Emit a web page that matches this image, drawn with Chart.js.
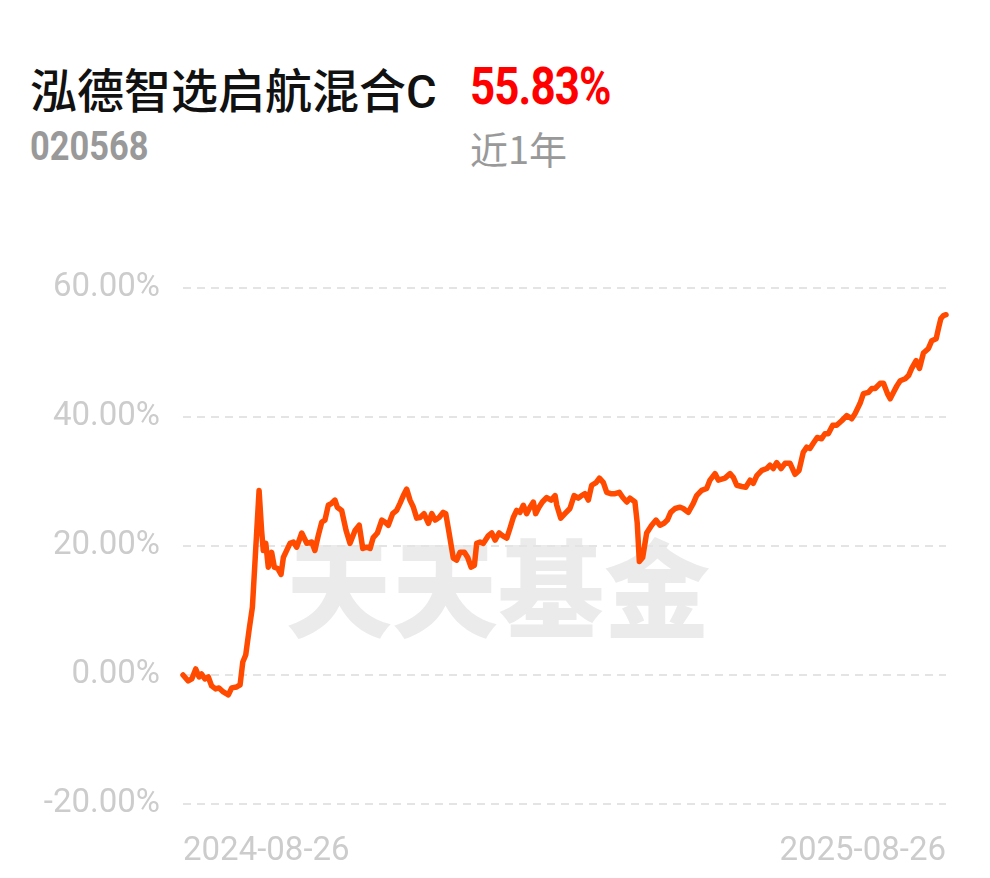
<!DOCTYPE html>
<html>
<head>
<meta charset="utf-8">
<script src="https://cdn.jsdelivr.net/npm/chart.js"></script>
<style>
  body { margin: 0; background: #fff; width: 990px; height: 878px; overflow: hidden; position: relative; font-family: Roboto, "Noto Sans CJK SC", sans-serif; }
  .title { position: absolute; left: 30px; top: 53px; font-family: "Noto Sans CJK SC", sans-serif; font-size: 47px; font-weight: 500; color: #111; white-space: nowrap; }
  .title .c { font-family: Roboto, sans-serif; }
  .pct { position: absolute; left: 470px; top: 57px; font-family: Roboto, sans-serif; font-size: 51px; font-weight: 700; color: #f00; transform: scaleX(0.86); transform-origin: left top; letter-spacing: -1px; }
  .code { position: absolute; left: 30px; top: 123px; font-family: Roboto, sans-serif; font-size: 40px; font-weight: 700; color: #999; transform: scaleX(0.86); transform-origin: left top; }
  .period { position: absolute; left: 470px; top: 120px; font-family: "Noto Sans CJK SC", sans-serif; font-size: 38px; color: #999; }
  .wm { position: absolute; left: 286px; top: 506px; font-family: "Noto Sans CJK SC", sans-serif; font-size: 106px; font-weight: 900; color: #ebebeb; white-space: nowrap; }
  #box { position: absolute; left: 0; top: 245px; width: 990px; height: 633px; }
</style>
</head>
<body>
<div class="wm">天天基金</div>
<div class="title">泓德智选启航混合<span class="c">C</span></div>
<div class="pct">55.83%</div>
<div class="code">020568</div>
<div class="period">近1年</div>
<div id="box"><canvas id="navChart"></canvas></div>
<script>
// days after 2024-08-26 and the cumulative return (%)
const days = [0, 2.5, 4.2, 6.1, 7.7, 8.9, 10.5, 12.1, 13.7, 15.6, 17.2, 19.3, 21.7, 23.3, 25.7, 27.3,
  28.6, 30.0, 31.6, 33.2, 34.4, 35.3, 36.4, 37.6, 38.4, 39.6, 40.8, 42.4, 43.7, 45.3, 46.9, 48.0,
  49.6, 51.2, 52.8, 54.4, 56.8, 59.2, 61.6, 63.1, 64.7, 66.4, 67.9, 69.5, 71.1, 72.7, 73.8, 75.9,
  78.0, 79.9, 82.3, 84.3, 86.0, 87.9, 89.5, 91.0, 93.0, 95.1, 96.6, 98.2, 100.3, 102.2, 103.8, 105.4,
  107.0, 108.6, 110.2, 111.8, 113.4, 115.3, 117.4, 119.0, 120.6, 122.5, 124.5, 125.7, 127.3, 129.3, 130.9, 132.5,
  134.6, 136.2, 137.8, 139.4, 140.5, 142.1, 143.7, 146.1, 147.7, 149.3, 151.2, 152.8, 154.9, 156.4, 158.0, 159.6,
  161.2, 162.8, 164.4, 166.0, 167.6, 168.7, 170.3, 171.9, 174.0, 176.1, 178.0, 178.8, 180.7, 182.7, 185.1, 187.1,
  189.1, 190.7, 192.3, 193.9, 195.5, 197.6, 199.2, 201.1, 202.7, 204.6, 206.7, 208.7, 210.4, 212.3, 213.8, 216.2,
  217.3, 218.3, 219.9, 221.8, 224.2, 226.3, 228.2, 230.1, 231.7, 233.3, 235.4, 237.8, 239.3, 241.7, 244.1, 245.7,
  248.1, 250.5, 252.1, 254.5, 256.1, 259.3, 261.7, 263.3, 264.9, 267.3, 269.2, 271.3, 272.8, 274.5, 276.9, 279.3,
  280.8, 282.4, 284.0, 286.1, 288.0, 290.4, 292.8, 294.7, 296.7, 298.4, 299.9, 301.5, 303.4, 305.5, 307.1, 308.7,
  310.8, 312.7, 315.1, 317.5, 319.9, 321.5, 323.9, 325.5, 327.9, 329.5, 331.1, 333.5, 335.1, 337.0, 338.3, 339.9,
  341.5, 343.1, 345.5, 347.1, 348.6, 350.7, 352.3, 354.2, 356.6, 358.2, 360.3, 361.4, 362.5, 363.8, 365];
const returns = [0.00, -0.93, -0.62, 0.93, -0.31, 0.15, -0.62, -0.31, -1.70, -2.16, -2.01, -2.63, -3.09, -2.01, -1.86, -1.55,
  2.01, 3.09, 6.96, 10.5, 17.3, 22.4, 28.6, 22.4, 19.3, 20.4, 16.7, 19.0, 16.7, 16.5, 15.6, 18.2,
  19.3, 20.4, 20.6, 19.8, 22.0, 20.4, 20.6, 19.3, 21.6, 23.7, 24.0, 26.3, 26.6, 27.1, 26.0, 25.5,
  22.4, 20.4, 22.4, 23.2, 19.6, 19.8, 19.6, 21.3, 22.0, 24.0, 23.7, 23.2, 25.0, 25.5, 26.6, 27.8,
  28.8, 27.1, 26.0, 24.3, 24.4, 25.0, 23.5, 25.0, 24.0, 24.4, 25.2, 25.0, 22.0, 18.1, 17.8, 19.0,
  19.0, 18.2, 16.7, 17.0, 20.4, 20.6, 20.4, 21.6, 22.0, 20.9, 22.0, 21.6, 21.2, 22.7, 24.4, 25.5,
  25.2, 26.3, 25.0, 26.0, 26.8, 25.0, 26.0, 26.8, 27.5, 27.1, 27.8, 26.3, 24.3, 25.0, 25.8, 27.8,
  27.4, 27.8, 28.1, 27.1, 29.4, 29.8, 30.5, 29.8, 28.3, 28.1, 28.1, 28.3, 27.5, 26.8, 27.4, 26.8,
  23.5, 17.6, 18.2, 22.0, 23.2, 24.0, 23.2, 23.5, 24.0, 25.2, 25.8, 26.0, 25.8, 25.2, 26.6, 27.8,
  28.6, 28.9, 30.2, 31.2, 30.2, 30.5, 31.2, 30.6, 29.4, 29.2, 29.1, 30.2, 29.7, 30.9, 31.7, 32.0,
  32.5, 32.0, 32.9, 32.0, 32.8, 32.8, 31.1, 31.7, 34.5, 35.3, 35.1, 35.9, 36.8, 36.6, 37.4, 37.4,
  38.7, 38.7, 39.4, 40.2, 39.7, 40.5, 42.1, 43.6, 43.8, 44.4, 44.4, 45.2, 45.2, 43.6, 42.8, 43.8,
  44.8, 45.6, 45.9, 46.4, 47.5, 48.7, 47.5, 49.9, 50.6, 51.8, 52.1, 53.7, 55.2, 55.7, 55.83];
const xTickLabels = ['2024-08-26', '2025-08-26'];
const yTicks = [-20, 0, 20, 40, 60];

const points = days.map((d, i) => ({ x: d, y: returns[i] }));

const ctx = document.getElementById('navChart').getContext('2d');
window.navChart = new Chart(ctx, {
  type: 'line',
  data: {
    datasets: [{
      data: points,
      borderColor: '#ff4a00',
      borderWidth: 5.5,
      pointRadius: 0,
      tension: 0,
      borderJoinStyle: 'round',
      borderCapStyle: 'round',
      clip: false
    }]
  },
  options: {
    responsive: true,
    maintainAspectRatio: false,
    animation: false,
    layout: { padding: { top: 32, right: 44, left: 0, bottom: 0 } },
    plugins: { legend: { display: false }, tooltip: { enabled: false } },
    scales: {
      x: {
        type: 'linear',
        min: days[0],
        max: days[days.length - 1],
        afterBuildTicks: axis => { axis.ticks = [{ value: axis.min }, { value: axis.max }]; },
        afterFit: axis => { axis.height = 74; },
        grid: { display: false },
        border: { display: false },
        ticks: {
          align: 'inner',
          maxRotation: 0,
          autoSkip: false,
          padding: 20,
          color: '#cccccc',
          font: { family: 'Roboto', size: 33 },
          callback: (v, i) => xTickLabels[i]
        }
      },
      y: {
        min: yTicks[0],
        max: yTicks[yTicks.length - 1],
        afterBuildTicks: axis => { axis.ticks = yTicks.map(v => ({ value: v })); },
        afterFit: axis => { axis.width = 183; },
        grid: { color: '#e4e4e4', lineWidth: 2, drawTicks: false },
        border: { display: false, dash: [8, 6] },
        ticks: {
          padding: 23,
          color: '#cccccc',
          font: { family: 'Roboto', size: 33 },
          callback: v => v.toFixed(2) + '%'
        }
      }
    }
  }
});
</script>
</body>
</html>
